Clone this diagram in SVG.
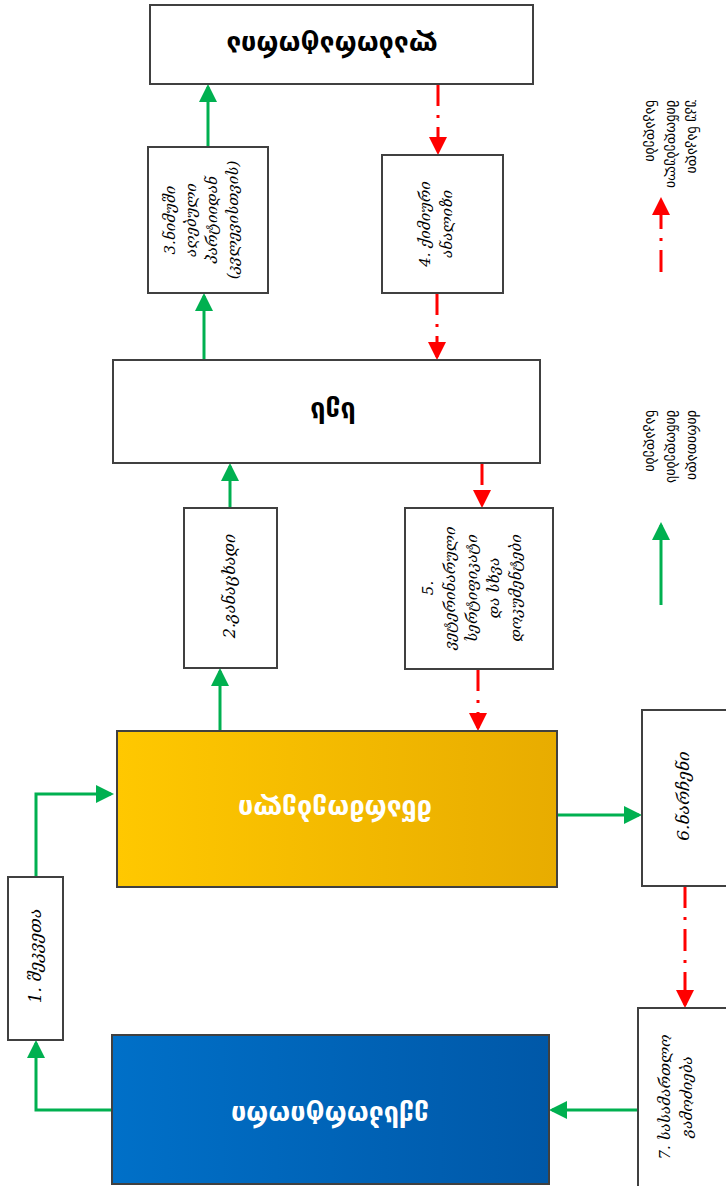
<svg xmlns="http://www.w3.org/2000/svg" width="726" height="1186" viewBox="0 0 726 1186">
<style>
.box{fill:#fff;stroke:#404040;stroke-width:2}
.big{font-family:"DejaVu Sans",sans-serif;font-weight:bold;font-size:27px;text-anchor:middle}
.sm{font-family:"DejaVu Serif","DejaVu Sans",serif;font-style:italic;font-size:15px;text-anchor:middle;fill:#000}
.lg{font-family:"DejaVu Sans",sans-serif;font-size:14px;fill:#000}
.g{stroke:#00B050;stroke-width:3;fill:none}
.r{stroke:#FF0000;stroke-width:3;fill:none;stroke-dasharray:22 9 3 9}
</style>
<defs>
<linearGradient id="yel" x1="0" y1="0" x2="1" y2="0"><stop offset="0" stop-color="#FFC800"/><stop offset="1" stop-color="#E8AC00"/></linearGradient>
<linearGradient id="blu" x1="0" y1="0" x2="1" y2="0"><stop offset="0" stop-color="#0070C8"/><stop offset="1" stop-color="#0058A8"/></linearGradient>
<marker id="ag" markerWidth="6" markerHeight="6" refX="5" refY="3" orient="auto" markerUnits="strokeWidth"><path d="M0,0 L6,3 L0,6 z" fill="#00B050"/></marker>
<marker id="ar" markerWidth="6" markerHeight="6" refX="5" refY="3" orient="auto" markerUnits="strokeWidth"><path d="M0,0 L6,3 L0,6 z" fill="#FF0000"/></marker>
</defs>
<g id="connectors">
<line class="g" x1="208" y1="147" x2="208" y2="87" marker-end="url(#ag)"/>
<line class="g" x1="204" y1="360" x2="204" y2="296" marker-end="url(#ag)"/>
<line class="g" x1="230" y1="508" x2="230" y2="466" marker-end="url(#ag)"/>
<line class="g" x1="220" y1="731" x2="220" y2="671" marker-end="url(#ag)"/>
<polyline class="g" points="36,877 36,794 111,794" marker-end="url(#ag)"/>
<polyline class="g" points="112,1110 36,1110 36,1043" marker-end="url(#ag)"/>
<line class="g" x1="557" y1="815" x2="639" y2="815" marker-end="url(#ag)"/>
<line class="g" x1="638" y1="1110" x2="552" y2="1110" marker-end="url(#ag)"/>
<line class="r" x1="438" y1="84" x2="438" y2="152" marker-end="url(#ar)"/>
<line class="r" x1="437" y1="293" x2="437" y2="357" marker-end="url(#ar)"/>
<line class="r" x1="482" y1="463" x2="482" y2="505" marker-end="url(#ar)"/>
<line class="r" x1="478" y1="669" x2="478" y2="728" marker-end="url(#ar)"/>
<line class="r" x1="685" y1="886" x2="685" y2="1005" marker-end="url(#ar)"/>
<line class="r" x1="661" y1="272" x2="661" y2="200" marker-end="url(#ar)"/>
<line class="g" x1="661" y1="605" x2="661" y2="525" marker-end="url(#ag)"/>
</g>
<g id="lab"><rect class="box" x="150" y="5" width="383" height="79"/>
<text class="big" transform="translate(332,45) rotate(180)" dy="9">ლაბორატორია</text></g>
<g id="n3"><rect class="box" x="148" y="147" width="120" height="146"/>
<text class="sm" transform="translate(208,220) rotate(-90)"><tspan x="0" y="-33">3.ნიმუში</tspan><tspan x="0" y="-12">აღებული</tspan><tspan x="0" y="9">პარტიიდან</tspan><tspan x="0" y="30">(კვლევისთვის)</tspan></text></g>
<g id="n4"><rect class="box" x="382" y="155" width="121" height="138"/>
<text class="sm" transform="translate(442,224) rotate(-90)"><tspan x="0" y="-12">4. ქიმიური</tspan><tspan x="0" y="10">ანალიზი</tspan></text></g>
<g id="mid"><rect class="box" x="113" y="360" width="427" height="103"/>
<text class="big" transform="translate(333,411) rotate(180)" dy="9">სეს</text></g>
<g id="n2"><rect class="box" x="184" y="508" width="93" height="160"/>
<text class="sm" transform="translate(230,586) rotate(-90)" dy="5" style="font-size:16px">2.განაცხადი</text></g>
<g id="n5"><rect class="box" x="405" y="508" width="148" height="161"/>
<text class="sm" transform="translate(479,588) rotate(-90)"><tspan x="0" y="-46">5.</tspan><tspan x="0" y="-24">ვეტერინარული</tspan><tspan x="0" y="-2">სერტიფიკატი</tspan><tspan x="0" y="20">და სხვა</tspan><tspan x="0" y="42">დოკუმენტები</tspan></text></g>
<g id="prod"><rect x="117" y="731" width="440" height="156" fill="url(#yel)" stroke="#404040" stroke-width="2"/>
<text class="big" fill="#fff" transform="translate(335,809) rotate(180)" dy="9">მწარმოებელი</text></g>
<g id="n6"><rect class="box" x="642" y="710" width="90" height="176"/>
<text class="sm" transform="translate(684,796) rotate(-90)" dy="5" style="font-size:17px">6.ნარჩენი</text></g>
<g id="n1"><rect class="box" x="8" y="877" width="55" height="163"/>
<text class="sm" transform="translate(36,956) rotate(-90)" dy="5" style="font-size:17px">1. შეკვეთა</text></g>
<g id="exp"><rect x="112" y="1035" width="437" height="149" fill="url(#blu)" stroke="#404040" stroke-width="2"/>
<text class="big" fill="#fff" transform="translate(330,1115) rotate(180)" dy="9">ექსპორტიორი</text></g>
<g id="n7"><rect class="box" x="638" y="1008" width="94" height="180"/>
<text class="sm" transform="translate(682,1097) rotate(-90)"><tspan x="0" y="-12">7. სასამართლო</tspan><tspan x="0" y="10">გამოძიება</tspan></text></g>
<g id="legend">
<text class="lg" transform="translate(688,100) rotate(90)"><tspan x="0" y="0">უკუ ნაკადი</tspan><tspan x="0" y="21">მიწოდებული</tspan><tspan x="0" y="42">ნაკადები</tspan></text>
<text class="lg" transform="translate(688,410) rotate(90)"><tspan x="0" y="0">ძირითადი</tspan><tspan x="0" y="21">მიწოდების</tspan><tspan x="0" y="42">ნაკადები</tspan></text>
</g>
</svg>
